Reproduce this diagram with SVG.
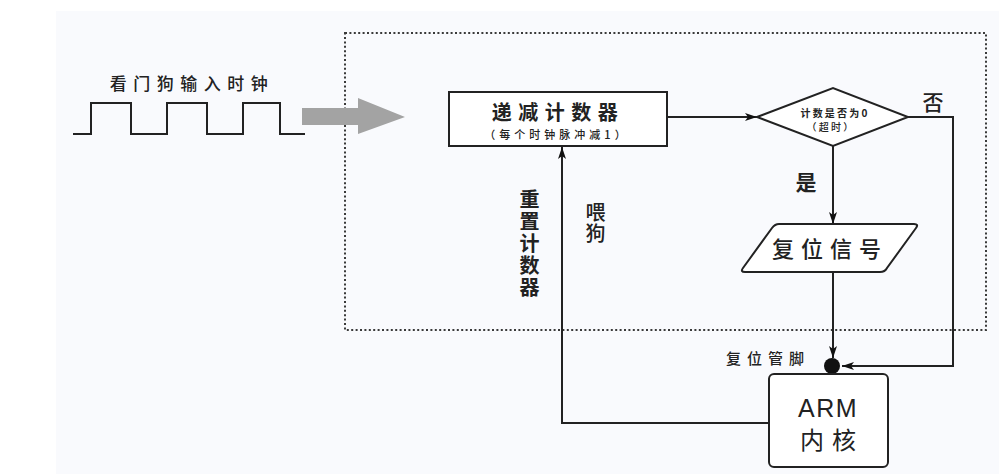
<svg xmlns="http://www.w3.org/2000/svg" width="999" height="474" viewBox="0 0 999 474">
<defs>
<marker id="ah" viewBox="0 0 12 8" refX="12" refY="4" markerWidth="12" markerHeight="8" markerUnits="userSpaceOnUse" orient="auto">
<path d="M0,0 L12,4 L0,8 L3,4 z" fill="#111"/>
</marker>
<style>
.ln{fill:none;stroke:#222;stroke-width:2}
.t{font-family:"Noto Sans CJK SC","Liberation Sans",sans-serif;fill:#222;text-anchor:middle}
.b{font-weight:bold}
.m{font-weight:500}
.v{writing-mode:vertical-rl;text-anchor:start}
</style>
</defs>
<rect x="0" y="0" width="999" height="474" fill="#ffffff"/>
<rect x="56" y="11" width="943" height="463" fill="#f9fafd"/>
<rect x="345" y="33" width="641" height="297" fill="none" stroke="#3a3a3a" stroke-width="2" stroke-dasharray="2 2.4"/>

<g id="clock">
<polyline class="ln" points="73,134 91,134 91,103 131,103 131,134 167,134 167,103 207,103 207,134 243,134 243,103 280,103 280,134 305,134"/>
<text class="t m" x="192" y="90" font-size="17" letter-spacing="6.5">看门狗输入时钟</text>
</g>
<g id="input-arrow">
<polygon points="302,108 358,108 358,98 405,117 358,134 358,125 302,125" fill="#a3a3a3"/>
</g>

<g id="connectors">
<line class="ln" x1="667" y1="117" x2="757" y2="117" marker-end="url(#ah)"/>
<polyline class="ln" points="908,117 953,117 953,366 842,366" marker-end="url(#ah)"/>
<line class="ln" x1="833" y1="146" x2="833" y2="224" marker-end="url(#ah)"/>
<line class="ln" x1="833" y1="272" x2="833" y2="358" marker-end="url(#ah)"/>
<polyline class="ln" points="769,423 562,423 562,147" marker-end="url(#ah)"/>
<circle cx="832" cy="366" r="8" fill="#111"/>
</g>

<g id="counter">
<rect x="449" y="92" width="218" height="54" fill="#fff" stroke="#222" stroke-width="2"/>
<text class="t b" x="558" y="120" font-size="20" letter-spacing="6.5">递减计数器</text>
<text class="t m" x="557" y="139" font-size="11" letter-spacing="4">（每个时钟脉冲减1）</text>
</g>

<g id="decision">
<polygon points="757,117 833,88 908,117 833,146" fill="#fff" stroke="#222" stroke-width="2"/>
<text class="t b" x="835" y="117" font-size="10" letter-spacing="2.2">计数是否为0</text>
<text class="t m" x="831" y="131" font-size="10" letter-spacing="2.2">（超时）</text>
</g>
<text id="no" class="t m" x="933" y="110" font-size="21">否</text>
<text id="yes" class="t b" x="806" y="190" font-size="21">是</text>

<g id="reset-signal">
<path d="M779,224 L914,224 Q919,224 916,228 L887,268 Q885,272 880,272 L745,272 Q740,272 743,268 L772,228 Q775,224 779,224 z" fill="#fff" stroke="#222" stroke-width="2"/>
<text class="t m" x="830" y="257" font-size="22" letter-spacing="7">复位信号</text>
</g>

<g id="reset-pin-label">
<text class="t m" x="768" y="364" font-size="15" letter-spacing="6">复位管脚</text>
</g>

<g id="arm">
<rect x="769" y="374" width="119" height="93" rx="5" fill="#fff" stroke="#222" stroke-width="2"/>
<text class="t m" x="828" y="417" font-size="25" letter-spacing="1.5" style="font-family:'Liberation Sans',sans-serif">ARM</text>
<text class="t" x="832" y="449" font-size="24" letter-spacing="8">内核</text>
</g>

<g id="reset-counter-label">
<text class="t b v" x="529.5" y="189" font-size="20" letter-spacing="2">重置计数器</text>
</g>
<g id="feed-label">
<text class="t m v" x="595.5" y="202" font-size="20" letter-spacing="1">喂狗</text>
</g>
</svg>
